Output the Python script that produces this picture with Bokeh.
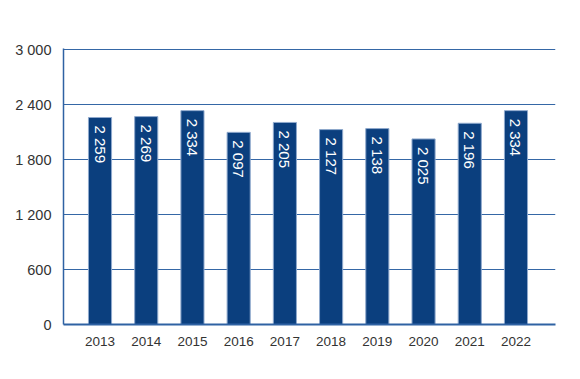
from bokeh.plotting import figure
from bokeh.models import ColumnDataSource, FixedTicker, Range1d
from bokeh.embed import file_html
from bokeh.resources import INLINE
from bokeh.core.properties import value
import math

years = [2013, 2014, 2015, 2016, 2017, 2018, 2019, 2020, 2021, 2022]
counts = [2259, 2269, 2334, 2097, 2205, 2127, 2138, 2025, 2196, 2334]
y_ticks = [0, 600, 1200, 1800, 2400, 3000]


def fmt(v):
    s = f"{v:,}".replace(",", " ")
    return s


labels = [fmt(v) for v in counts]
src = ColumnDataSource(dict(x=years, top=counts, label=labels))

p = figure(width=578, height=375, output_backend="svg", toolbar_location=None,
           x_range=Range1d(2012.21, 2022.855), y_range=Range1d(0, 3012),
           min_border_left=63, min_border_right=23, min_border_top=48, min_border_bottom=51)
p.outline_line_color = None
p.background_fill_color = "white"

p.vbar(x="x", top="top", width=0.5, bottom=0, source=src,
       fill_color="#0b3f7e", line_color="#8fa9cd", line_width=1)

p.text(x="x", y="top", text="label", source=src, angle=-math.pi / 2,
       text_align="left", text_baseline="middle", y_offset=8,
       text_color="white", text_font=value("Liberation Sans"), text_font_size="15px")

# axes
p.yaxis.ticker = FixedTicker(ticks=y_ticks)
p.yaxis.major_label_overrides = {t: fmt(t) for t in y_ticks}
p.yaxis.major_tick_line_color = None
p.yaxis.minor_tick_line_color = None
p.yaxis.axis_line_color = "#2f62a3"
p.yaxis.axis_line_width = 1.5
p.yaxis.major_label_standoff = 6
p.yaxis.major_label_text_font = "Liberation Sans"
p.yaxis.major_label_text_font_size = "14.5px"
p.yaxis.major_label_text_color = "#333333"

p.xaxis.ticker = FixedTicker(ticks=years)
p.xaxis.major_label_overrides = {y: str(y) for y in years}
p.xaxis.major_tick_line_color = None
p.xaxis.minor_tick_line_color = None
p.xaxis.axis_line_color = "#2f62a3"
p.xaxis.axis_line_width = 2
p.xaxis.major_label_standoff = 6
p.xaxis.major_label_text_font = "Liberation Sans"
p.xaxis.major_label_text_font_size = "13.5px"
p.xaxis.major_label_text_color = "#333333"

p.xgrid.grid_line_color = None
p.ygrid.ticker = FixedTicker(ticks=y_ticks)
p.ygrid.grid_line_color = "#3567a6"
p.ygrid.grid_line_width = 1

open("out.html", "w").write(file_html(p, INLINE))
